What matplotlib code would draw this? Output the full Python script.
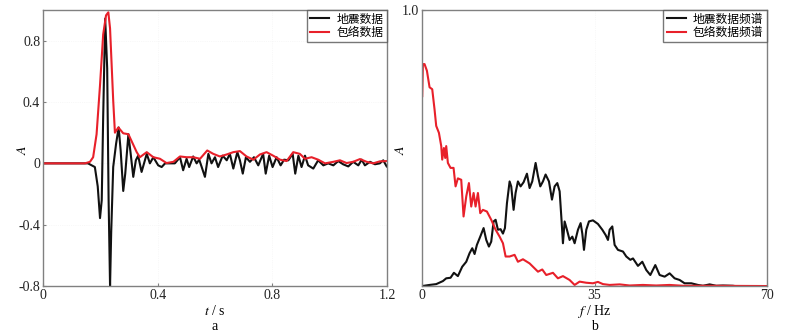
import matplotlib
matplotlib.use('Agg')
import matplotlib.pyplot as plt

plt.rcParams['font.family'] = ['Liberation Serif', 'Noto Sans CJK SC']
plt.rcParams['mathtext.fontset'] = 'stix'

# (a) seismic trace and its envelope
t_seis = [0.0, 0.157, 0.181, 0.191, 0.199, 0.205, 0.210, 0.217, 0.224, 0.229, 0.234, 0.238,
          0.245, 0.255, 0.264, 0.271, 0.280, 0.287, 0.298, 0.306, 0.315, 0.324, 0.332, 0.344,
          0.362, 0.373, 0.385, 0.402, 0.414, 0.426, 0.443, 0.460, 0.478, 0.489, 0.501, 0.510,
          0.524, 0.536, 0.545, 0.553, 0.565, 0.577, 0.588, 0.600, 0.611, 0.627, 0.641, 0.652,
          0.664, 0.678, 0.687, 0.697, 0.708, 0.722, 0.736, 0.751, 0.768, 0.777, 0.789, 0.801,
          0.815, 0.829, 0.841, 0.856, 0.871, 0.880, 0.891, 0.902, 0.914, 0.925, 0.943, 0.960,
          0.978, 0.995, 1.013, 1.030, 1.047, 1.065, 1.082, 1.100, 1.112, 1.123, 1.141, 1.158,
          1.175, 1.187, 1.199]
a_seis = [0.0, 0.0, -0.024, -0.15, -0.357, -0.24, 0.30, 0.944, 0.62, -0.24, -0.80, -0.45,
          -0.024, 0.127, 0.234, 0.084, -0.18, -0.067, 0.19, 0.062, -0.088, 0.02, 0.05, -0.056,
          0.062, 0.0, 0.04, -0.013, -0.024, 0.0, 0.0, 0.0, 0.04, -0.045, 0.03, -0.024,
          0.045, 0.0, 0.024, -0.02, -0.088, 0.062, 0.0, 0.04, -0.024, 0.05, 0.02, 0.062,
          -0.034, 0.073, 0.02, -0.067, 0.04, 0.01, 0.04, -0.013, 0.062, -0.067, 0.05, -0.024,
          0.04, -0.013, 0.024, 0.02, 0.062, -0.067, 0.05, -0.024, 0.05, -0.013, -0.034, 0.02,
          -0.013, 0.0, -0.013, 0.015, -0.006, -0.02, 0.01, -0.013, 0.024, -0.013, 0.01, -0.006,
          0.0, 0.02, -0.02]

t_env = [0.0, 0.1465, 0.164, 0.175, 0.187, 0.199, 0.210, 0.220, 0.228, 0.234, 0.245, 0.251,
         0.263, 0.280, 0.298, 0.327, 0.338, 0.362, 0.385, 0.408, 0.431, 0.455, 0.478, 0.501,
         0.524, 0.548, 0.573, 0.594, 0.617, 0.641, 0.664, 0.687, 0.710, 0.734, 0.757, 0.780,
         0.803, 0.827, 0.850, 0.873, 0.896, 0.914, 0.937, 0.960, 0.984, 1.013, 1.036, 1.059,
         1.082, 1.106, 1.129, 1.152, 1.175, 1.199]
a_env = [0.0, 0.0, 0.01, 0.04, 0.19, 0.51, 0.84, 0.965, 0.985, 0.88, 0.41, 0.20,
         0.234, 0.196, 0.19, 0.073, 0.04, 0.073, 0.04, 0.03, 0.002, 0.01, 0.045, 0.04,
         0.04, 0.03, 0.084, 0.062, 0.045, 0.058, 0.073, 0.08, 0.045, 0.024, 0.058, 0.073,
         0.05, 0.024, 0.015, 0.073, 0.062, 0.03, 0.04, 0.024, 0.0, 0.01, 0.02, 0.002,
         0.01, 0.028, 0.01, 0.0, 0.013, 0.015]

# (b) amplitude spectra
f_seis = [0.0, 1.49, 2.84, 4.2, 4.87, 5.75, 6.43, 7.24, 8.12, 8.94, 9.61, 10.16, 10.63,
          11.1, 11.78, 12.46, 13.0, 13.54, 14.01, 14.49, 14.9, 15.37, 15.91, 16.39, 16.79,
          17.2, 17.74, 18.07, 18.55, 18.95, 19.43, 19.97, 20.58, 21.26, 21.8, 22.34, 23.02,
          23.5, 23.97, 24.51, 25.05, 25.73, 26.34, 26.88, 27.42, 27.9, 28.3, 28.57, 28.91,
          29.38, 29.92, 30.47, 30.94, 31.62, 32.16, 32.5, 32.84, 33.31, 33.85, 34.66, 35.67,
          36.56, 37.23, 37.71, 38.05, 38.59, 39.06, 39.74, 40.76, 41.43, 42.25, 42.79, 43.8,
          44.68, 45.49, 46.31, 47.32, 48.2, 49.22, 50.23, 51.24, 52.26, 53.27, 54.63, 55.98,
          57.0, 58.35, 59.69, 61.04, 63.07, 63.5]
s_seis = [0.0, 0.004, 0.007, 0.018, 0.028, 0.03, 0.048, 0.036, 0.07, 0.088, 0.119, 0.137, 0.116,
          0.149, 0.179, 0.21, 0.167, 0.143, 0.161, 0.234, 0.24, 0.204, 0.206, 0.19, 0.21,
          0.30, 0.379, 0.361, 0.276, 0.337, 0.379, 0.361, 0.376, 0.407, 0.355, 0.379, 0.446,
          0.398, 0.361, 0.379, 0.404, 0.379, 0.313, 0.361, 0.373, 0.343, 0.234, 0.155, 0.234,
          0.204, 0.167, 0.179, 0.155, 0.204, 0.228, 0.19, 0.131, 0.204, 0.234, 0.238, 0.225,
          0.204, 0.185, 0.167, 0.204, 0.216, 0.149, 0.131, 0.125, 0.107, 0.095, 0.10, 0.073,
          0.088, 0.058, 0.04, 0.076, 0.04, 0.034, 0.046, 0.028, 0.022, 0.01, 0.01, 0.004,
          0.001, 0.006, 0.001, 0.002, 0.001, 0.0]

f_env = [0.0, 0.14, 0.47, 0.95, 1.49, 2.03, 2.5, 2.84, 3.39, 3.86, 4.06, 4.4, 4.67, 4.87,
         5.21, 5.75, 6.36, 6.77, 7.24, 7.92, 8.39, 8.94, 9.48, 9.95, 10.43, 10.83, 11.31,
         11.78, 12.32, 13.13, 14.01, 14.9, 15.71, 16.39, 16.93, 17.74, 18.75, 19.43, 20.45,
         21.8, 22.82, 23.5, 24.37, 25.18, 26.54, 27.55, 28.57, 29.92, 30.94, 31.95, 33.3,
         34.66, 35.67, 36.7, 38.05, 40.08, 42.1, 44.8, 47.5, 50.2, 52.9, 58.3, 69.9]
s_env = [0.688, 0.804, 0.804, 0.78, 0.72, 0.713, 0.64, 0.58, 0.555, 0.507, 0.458, 0.50, 0.464,
         0.507, 0.446, 0.428, 0.428, 0.361, 0.39, 0.385, 0.252, 0.325, 0.373, 0.288, 0.337,
         0.288, 0.337, 0.264, 0.276, 0.27, 0.24, 0.204, 0.179, 0.155, 0.107, 0.107, 0.113,
         0.088, 0.097, 0.082, 0.064, 0.052, 0.06, 0.04, 0.048, 0.028, 0.036, 0.022, 0.004,
         0.016, 0.012, 0.01, 0.015, 0.007, 0.004, 0.006, 0.002, 0.004, 0.002, 0.004, 0.001,
         0.001, 0.0]

fig = plt.figure(figsize=(7.87, 3.33), dpi=100)
ax1 = fig.add_axes([0.0546, 0.141, 0.4371, 0.829])
ax2 = fig.add_axes([0.5365, 0.141, 0.4381, 0.829])

black = '#111111'
red = '#e8202a'

ax1.plot(t_seis, a_seis, color=black, lw=1.5, label='地震数据')
ax1.plot(t_env, a_env, color=red, lw=1.5, label='包络数据')
ax1.set_xlim(0, 1.2)
ax1.set_ylim(-0.8, 1.0)
ax1.set_xticks([0, 0.4, 0.8, 1.2])
ax1.set_xticklabels(['0', '0.4', '0.8', '1.2'])
ax1.set_yticks([-0.8, -0.4, 0, 0.4, 0.8])
ax1.set_yticklabels(['-0.8', '-0.4', '0', '0.4', '0.8'])
ax1.set_xlabel('$t$ / s', fontsize=10, va='center')
fig.text(22 / 787, 1 - 150 / 333, '$A$', rotation=90, ha='center', va='center', fontsize=10)
fig.text(0.2731, 1 - 326 / 333, 'a', ha='center', va='center', fontsize=10)

ax2.plot(f_seis, s_seis, color=black, lw=1.5, label='地震数据频谱')
ax2.plot(f_env, s_env, color=red, lw=1.5, label='包络数据频谱')
ax2.set_xlim(0, 70)
ax2.set_ylim(0, 1.0)
ax2.set_xticks([0, 35, 70])
ax2.set_yticks([1.0])
ax2.set_yticklabels(['1.0'])
ax2.set_xlabel('$f$ / Hz', fontsize=10, va='center')
fig.text(400 / 787, 1 - 150 / 333, '$A$', rotation=90, ha='center', va='center', fontsize=10)
fig.text(0.7556, 1 - 326 / 333, 'b', ha='center', va='center', fontsize=10)

for ax in (ax1, ax2):
    ax.xaxis.set_label_coords(0.5, (286 - 311) / 276)
    for s in ax.spines.values():
        s.set_color('#808080')
        s.set_linewidth(1.0)
    ax.tick_params(direction='in', length=2, labelsize=10, colors='#808080', labelcolor='#222222', pad=2)
    ax.grid(True, color='#f2f2f2', lw=0.5, ls=':')
    leg = ax.legend(loc='upper right', fontsize=8.5, frameon=True, fancybox=False,
                    borderaxespad=0.0, handlelength=1.6, handletextpad=0.6,
                    borderpad=0.3, labelspacing=0.1)
    leg.get_frame().set_edgecolor('#555555')
    leg.get_frame().set_linewidth(1.0)

fig.savefig('out.png', dpi=100)
